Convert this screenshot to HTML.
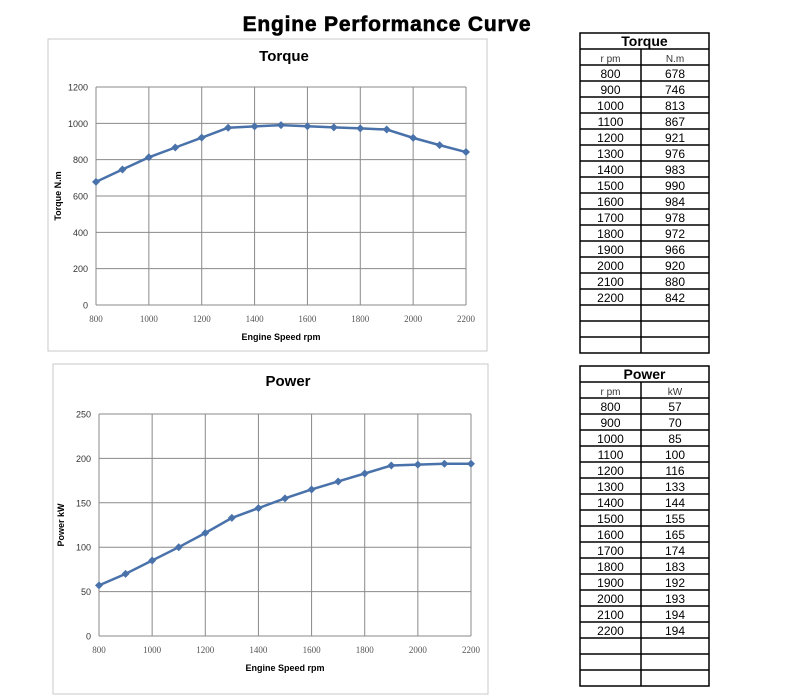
<!DOCTYPE html>
<html><head><meta charset="utf-8"><style>
body{margin:0;background:#fff;width:800px;height:700px;overflow:hidden}
svg{display:block}
</style></head><body>
<svg id="s" width="800" height="700" xmlns="http://www.w3.org/2000/svg" font-family="Liberation Sans, sans-serif">
<text x="387" y="31" text-anchor="middle" font-size="21" font-weight="bold" stroke="#000" stroke-width="0.6" letter-spacing="0.8">Engine Performance Curve</text>
</svg>
<script>
const s=document.getElementById('s');
let h='';
const rpm=[800,900,1000,1100,1200,1300,1400,1500,1600,1700,1800,1900,2000,2100,2200];
const tq=[678,746,813,867,921,976,983,990,984,978,972,966,920,880,842];
const pw=[57,70,85,100,116,133,144,155,165,174,183,192,193,194,194];
function chart(fx,fy,fw,fh,px0,px1,py0,py1,ymax,ystep,data,title,ylab){
 h+=`<rect x="${fx}" y="${fy}" width="${fw}" height="${fh}" fill="#fff" stroke="#c8c8c8" stroke-width="1"/>`;
 h+=`<text x="${(px0+px1)/2+3}" y="${fy+22}" text-anchor="middle" font-size="15" font-weight="bold">${title}</text>`;
 for(let v=0;v<=ymax;v+=ystep){const y=py1-(py1-py0)*v/ymax;
  h+=`<line x1="${px0}" x2="${px1}" y1="${y}" y2="${y}" stroke="#8a8a8a" stroke-width="1"/>`;
  h+=`<text x="${px0-8}" y="${y+3.5}" text-anchor="end" font-size="9" fill="#333">${v}</text>`;}
 for(let r=800;r<=2200;r+=200){const x=px0+(px1-px0)*(r-800)/1400;
  h+=`<line x1="${x}" x2="${x}" y1="${py0}" y2="${py1}" stroke="#8a8a8a" stroke-width="1"/>`;
  h+=`<text x="${x}" y="${py1+17}" text-anchor="middle" font-size="9" fill="#555" font-family="Liberation Serif, serif">${r}</text>`;}
 h+=`<text x="${(px0+px1)/2}" y="${py1+35}" text-anchor="middle" font-size="9" font-weight="bold">Engine Speed rpm</text>`;
 h+=`<text transform="translate(${px0-35},${(py0+py1)/2}) rotate(-90)" text-anchor="middle" font-size="9" font-weight="bold">${ylab}</text>`;
 const pts=data.map((v,i)=>[px0+(px1-px0)*i/14,py1-(py1-py0)*v/ymax]);
 h+=`<polyline points="${pts.map(p=>p.join(',')).join(' ')}" fill="none" stroke="#4a72aa" stroke-width="2.5"/>`;
 pts.forEach(p=>h+=`<path d="M${p[0]-4} ${p[1]}L${p[0]} ${p[1]-4}L${p[0]+4} ${p[1]}L${p[0]} ${p[1]+4}Z" fill="#4a72aa"/>`);
}
chart(48,39,439,312,96,466,87,305,1200,200,tq,'Torque','Torque N.m');
chart(53,364,435,330,99,471,414,636,250,50,pw,'Power','Power kW');
function table(y0,title,unit,data){
 const x0=580,x1=709,xm=641;
 h+=`<rect x="${x0}" y="${y0}" width="${x1-x0}" height="${16*20}" fill="#fff" stroke="#000" stroke-width="1.5"/>`;
 h+=`<text x="${(x0+x1)/2}" y="${y0+13}" text-anchor="middle" font-size="14" font-weight="bold">${title}</text>`;
 for(let i=1;i<20;i++){const y=y0+16*i;h+=`<line x1="${x0}" x2="${x1}" y1="${y}" y2="${y}" stroke="#000" stroke-width="1.5"/>`;}
 h+=`<line x1="${xm}" x2="${xm}" y1="${y0+16}" y2="${y0+320}" stroke="#000" stroke-width="1.5"/>`;
 h+=`<text x="${(x0+xm)/2}" y="${y0+29}" text-anchor="middle" font-size="10" fill="#333">r pm</text>`;
 h+=`<text x="${(xm+x1)/2}" y="${y0+29}" text-anchor="middle" font-size="10" fill="#333">${unit}</text>`;
 data.forEach((v,i)=>{const y=y0+32+16*i+13;
  h+=`<text x="${(x0+xm)/2}" y="${y}" text-anchor="middle" font-size="12">${rpm[i]}</text>`;
  h+=`<text x="${(xm+x1)/2}" y="${y}" text-anchor="middle" font-size="12">${v}</text>`;});
}
table(33,'Torque','N.m',tq);
table(366,'Power','kW',pw);
s.insertAdjacentHTML('beforeend',h);
</script>
</body></html>
